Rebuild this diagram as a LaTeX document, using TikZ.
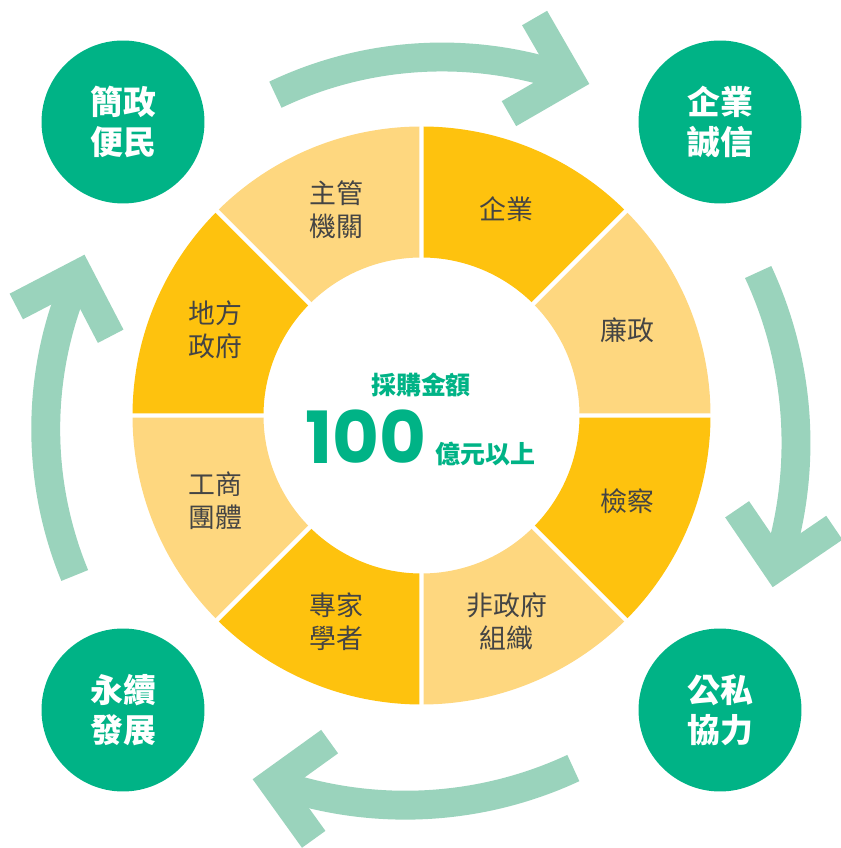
\documentclass[tikz,border=0pt]{standalone}
\usepackage{fontspec}
\newfontfamily\cjk{Noto Sans CJK TC}
\newfontfamily\numfont{Poppins}
\usetikzlibrary{positioning}
\definecolor{ringdark}{HTML}{FEC20E}
\definecolor{ringlight}{HTML}{FED77F}
\definecolor{goalgreen}{HTML}{00B386}
\definecolor{cyclegreen}{HTML}{9AD3BC}
\definecolor{labelgray}{HTML}{444444}
\tikzset{
    goal/.style={circle, fill=goalgreen, minimum size=3.26cm, inner sep=0pt,
        text=white, align=center, font=\cjk\bfseries\fontsize{18.7}{22.7}\selectfont},
    seglabel/.style={text=labelgray, align=center, inner sep=0pt,
        font=\cjk\fontsize{15.3}{18.9}\selectfont},
    amount/.style={text=goalgreen, inner sep=0pt, font=\cjk\bfseries\fontsize{14.2}{16}\selectfont},
    bignum/.style={text=goalgreen, inner sep=0pt, font=\numfont\bfseries\fontsize{41}{44}\selectfont},
    band/.style={draw=cyclegreen, line width=16.44pt},
    chevron/.style={band, line join=miter},
    gap/.style={draw=white, line width=2.5pt}
}
\begin{document}
\begin{tikzpicture}[x=0.02cm, y=0.02cm]
    \useasboundingbox (0, 0) rectangle (841, 848);
    \coordinate (ring) at (421.5, 432.5);
    \fill[ringdark]
        ([shift={(45:158)}]ring) arc[start angle=45, end angle=90, radius=158]
        -- ([shift={(90:289)}]ring) arc[start angle=90, end angle=45, radius=289] -- cycle;
    \fill[ringlight]
        ([shift={(0:158)}]ring) arc[start angle=0, end angle=45, radius=158]
        -- ([shift={(45:289)}]ring) arc[start angle=45, end angle=0, radius=289] -- cycle;
    \fill[ringdark]
        ([shift={(-45:158)}]ring) arc[start angle=-45, end angle=0, radius=158]
        -- ([shift={(0:289)}]ring) arc[start angle=0, end angle=-45, radius=289] -- cycle;
    \fill[ringlight]
        ([shift={(-90:158)}]ring) arc[start angle=-90, end angle=-45, radius=158]
        -- ([shift={(-45:289)}]ring) arc[start angle=-45, end angle=-90, radius=289] -- cycle;
    \fill[ringdark]
        ([shift={(-135:158)}]ring) arc[start angle=-135, end angle=-90, radius=158]
        -- ([shift={(-90:289)}]ring) arc[start angle=-90, end angle=-135, radius=289] -- cycle;
    \fill[ringlight]
        ([shift={(180:158)}]ring) arc[start angle=180, end angle=225, radius=158]
        -- ([shift={(225:289)}]ring) arc[start angle=225, end angle=180, radius=289] -- cycle;
    \fill[ringdark]
        ([shift={(135:158)}]ring) arc[start angle=135, end angle=180, radius=158]
        -- ([shift={(180:289)}]ring) arc[start angle=180, end angle=135, radius=289] -- cycle;
    \fill[ringlight]
        ([shift={(90:158)}]ring) arc[start angle=90, end angle=135, radius=158]
        -- ([shift={(135:289)}]ring) arc[start angle=135, end angle=90, radius=289] -- cycle;
    \draw[gap]
        ([shift={(0:300)}]ring) -- ([shift={(180:300)}]ring)
        ([shift={(45:300)}]ring) -- ([shift={(225:300)}]ring)
        ([shift={(90:300)}]ring) -- ([shift={(270:300)}]ring)
        ([shift={(135:300)}]ring) -- ([shift={(315:300)}]ring);

    \node[seglabel] (company) at ([shift={(67.5:223)}]ring) {企業};
    \node[seglabel] (clean) at ([shift={(22.5:223)}]ring) {廉政};
    \node[seglabel] (prosecutor) at ([shift={(-22.5:223)}]ring) {檢察};
    \node[seglabel] (ngo) at ([shift={(-67.5:223)}]ring) {非政府\\組織};
    \node[seglabel] (expert) at ([shift={(-112.5:223)}]ring) {專家\\學者};
    \node[seglabel] (business) at ([shift={(-157.5:223)}]ring) {工商\\團體};
    \node[seglabel] (local) at ([shift={(157.5:223)}]ring) {地方\\政府};
    \node[seglabel] (authority) at ([shift={(112.5:223)}]ring) {主管\\機關};

    \node[amount] (title) at (421, 463) {採購金額};
    \node[bignum] (hundred) at (366, 411.5) {100};
    \node[amount, base right=0.16cm of hundred] (unit) {億元以上};

    \node[goal] (simple) at (123, 726) {簡政\\便民};
    \node[goal] (integrity) at (720, 726) {企業\\誠信};
    \node[goal] (partner) at (720, 138) {公私\\協力};
    \node[goal] (sustain) at (123, 138) {永續\\發展};

    \coordinate (topc) at (442, 404);
    \coordinate (toptip) at ([shift={(70.75:387)}]topc);
    \draw[band] ([shift={(115.5:387)}]topc) arc[start angle=115.5, end angle=70.75, radius=387];
    \draw[chevron] ([shift={(120:70)}]toptip) -- (toptip) -- ([shift={(-150:70)}]toptip);

    \coordinate (rightc) at (391, 405);
    \coordinate (righttip) at ([shift={(-17.85:405)}]rightc);
    \draw[band] ([shift={(24.97:405)}]rightc) arc[start angle=24.97, end angle=-17.85, radius=405];
    \draw[chevron] ([shift={(124.25:70)}]righttip) -- (righttip) -- ([shift={(34.25:70)}]righttip);

    \coordinate (bottomc) at (405.3, 441.3);
    \coordinate (bottomtip) at ([shift={(-109.42:398.5)}]bottomc);
    \draw[band] ([shift={(-65.06:398.5)}]bottomc) arc[start angle=-65.06, end angle=-109.42, radius=398.5];
    \draw[chevron] ([shift={(35.75:70)}]bottomtip) -- (bottomtip) -- ([shift={(-54.25:70)}]bottomtip);

    \coordinate (leftc) at (429.6, 418.9);
    \coordinate (lefttip) at ([shift={(156.2:383.9)}]leftc);
    \draw[band] ([shift={(202.42:383.9)}]leftc) arc[start angle=202.42, end angle=156.2, radius=383.9];
    \draw[chevron] ([shift={(207.5:70)}]lefttip) -- (lefttip) -- ([shift={(-62.5:70)}]lefttip);
\end{tikzpicture}
\end{document}
